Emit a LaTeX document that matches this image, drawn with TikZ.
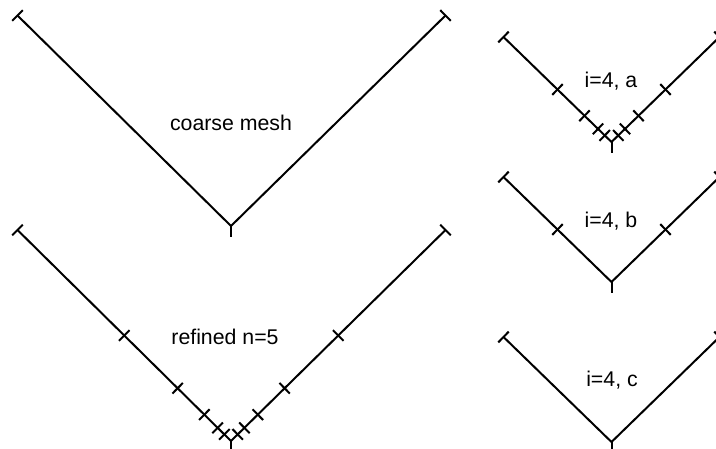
\documentclass[tikz,border=0pt]{standalone}
\usepackage{fontspec}
\setmainfont{Liberation Sans}
\usetikzlibrary{calc}
\tikzset{
  arm/.style={line width=2pt},
  tickmark/.style={line width=2pt},
  lbl/.style={font=\fontsize{21.3}{25}\selectfont, inner sep=0pt, anchor=base}
}
\begin{document}
\begin{tikzpicture}[x=1pt,y=-1pt]
\useasboundingbox (0,0) rectangle (716,449);
\foreach \n/\lx/\ly/\vx/\vy/\rx/\ry/\k in {
  A/17.5/15.5/231/226/445.5/15.5/0,
  B/17.5/230/231/441/445.5/230/5,
  C/503.5/37/611.5/142/719.5/37/4,
  D/503.5/177/611.5/282/719.5/177/1,
  E/503.5/337/611.5/442/719.5/337/0} {
  \coordinate (\n L) at (\lx,\ly);
  \coordinate (\n V) at (\vx,\vy);
  \coordinate (\n R) at (\rx,\ry);
  \draw[arm] (\n L) -- (\n V) -- (\n R);
  \draw[tickmark] ($(\n L)!7.5pt!90:(\n V)$) -- ($(\n L)!7.5pt!-90:(\n V)$);
  \draw[tickmark] ($(\n R)!7.5pt!90:(\n V)$) -- ($(\n R)!7.5pt!-90:(\n V)$);
  \draw[tickmark] ($(\n V)+(0,-1)$) -- ++(0,12);
  \ifnum\k>0
    \foreach \j in {1,...,\k} {
      \pgfmathsetmacro\f{1/(2^\j)}
      \coordinate (\n PL) at ($(\n V)!\f!(\n L)$);
      \coordinate (\n PR) at ($(\n V)!\f!(\n R)$);
      \draw[tickmark] ($(\n PL)!7.5pt!90:(\n L)$) -- ($(\n PL)!7.5pt!-90:(\n L)$);
      \draw[tickmark] ($(\n PR)!7.5pt!90:(\n R)$) -- ($(\n PR)!7.5pt!-90:(\n R)$);
    }
  \fi
}
\node[lbl] (t1) at (231,131) {coarse mesh};
\node[lbl] (t2) at (225,345) {refined n=5};
\node[lbl] (t3) at (611,88) {i=4, a};
\node[lbl] (t4) at (611,227.5) {i=4, b};
\node[lbl] (t5) at (612,387) {i=4, c};
\end{tikzpicture}
\end{document}
